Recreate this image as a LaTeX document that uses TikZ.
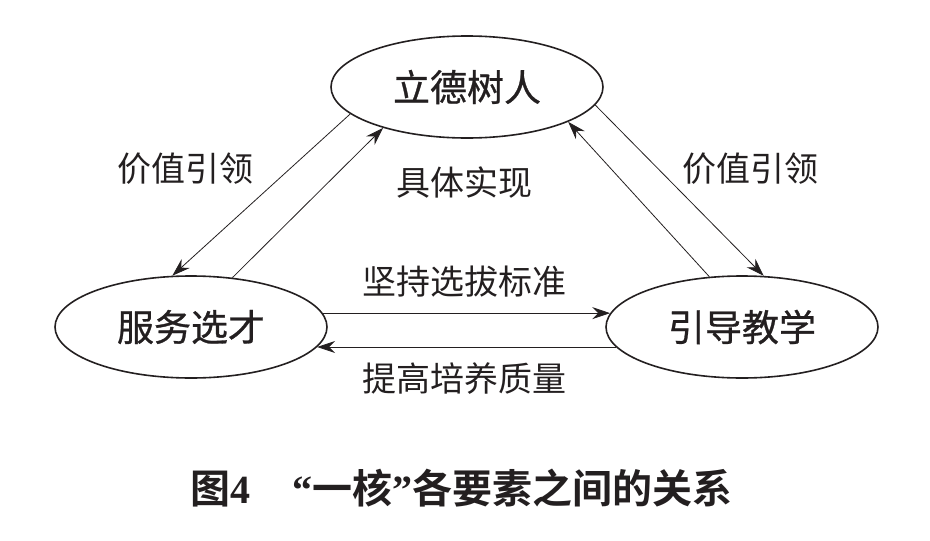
\documentclass[tikz,border=0pt]{standalone}
\usepackage{fontspec}
\newfontfamily\cjk{Noto Sans CJK SC}
\newfontfamily\cjkm[FakeBold=0.8]{Noto Sans CJK SC}
\newfontfamily\cjkb{Noto Sans CJK SC Bold}
\newfontfamily\qf{Liberation Serif Bold}
\usetikzlibrary{shapes.geometric,arrows.meta}
\definecolor{ink}{HTML}{231F20}
\begin{document}
\begin{tikzpicture}[x=1pt,y=-1pt,
  elbox/.style={ellipse,draw=ink,line width=1.6pt,minimum width=272pt,minimum height=102pt,inner sep=0pt,font=\cjkm\fontsize{37}{40}\selectfont,text=ink},
  lab/.style={font=\cjk\fontsize{34}{38}\selectfont,text=ink,inner sep=0pt},
  conn/.style={draw=ink,line width=0.8pt,-{Stealth[length=18pt,width=12pt,inset=6pt]}}]
\useasboundingbox (0,0) rectangle (930,541);
\node[elbox] (top) at (467,87) {立德树人};
\node[elbox] (left) at (191,327) {服务选才};
\node[elbox] (right) at (742,327) {引导教学};
\draw[conn] (top.193) -- (left.110);
\draw[conn] (left.50) -- (top.206.6);
\draw[conn] (top.352) -- (right.67);
\draw[conn] (right.123) -- (top.341);
\draw[conn] (left.6) -- (right.174);
\draw[conn] (right.189.5) -- (left.-9.5);
\node[lab] (l1) at (185,169) {价值引领};
\node[lab] (l2) at (750,169) {价值引领};
\node[lab] (l3) at (464,183) {具体实现};
\node[lab] (l4) at (464,282) {坚持选拔标准};
\node[lab] (l5) at (464,379) {提高培养质量};
\node[font=\fontsize{40}{44}\selectfont,text=ink,inner sep=0pt,anchor=west] (cap) at (190,488)
  {{\cjkb 图}{\qf 4}\hspace{1.05em}{\qf “}{\cjkb 一核}{\qf ”}{\cjkb 各要素之间的关系}};
\end{tikzpicture}
\end{document}
